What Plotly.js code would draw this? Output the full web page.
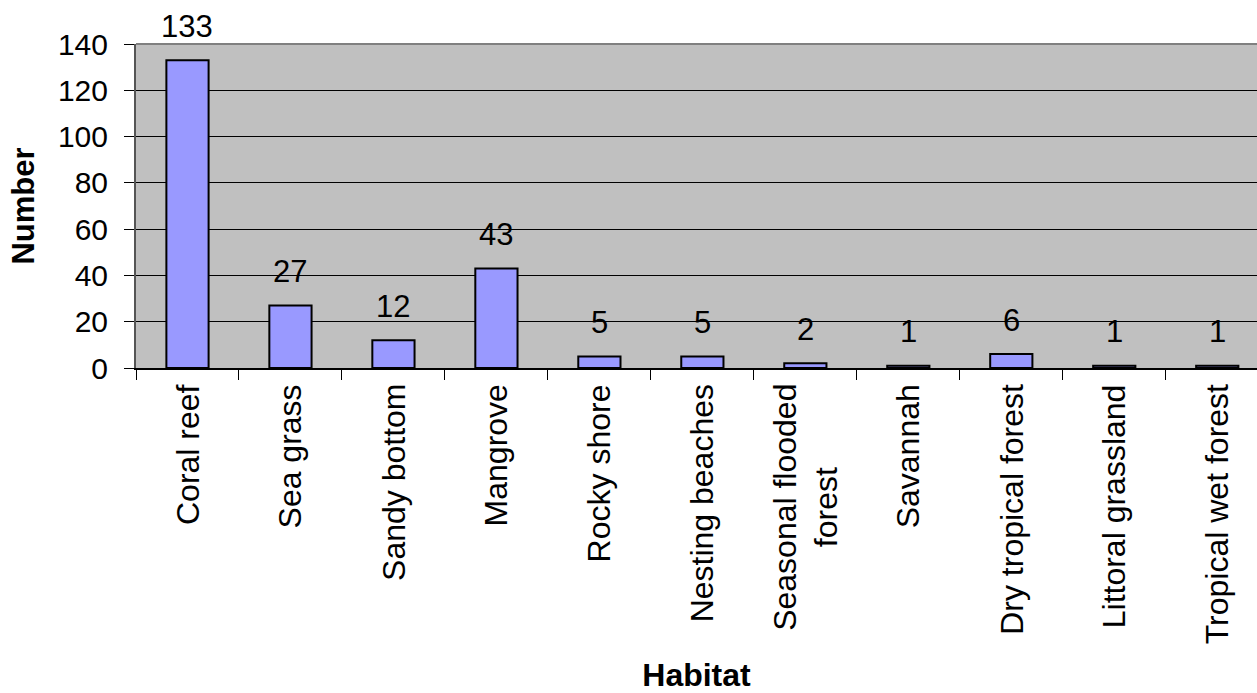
<!DOCTYPE html>
<html>
<head>
<meta charset="utf-8">
<script src="https://cdn.plot.ly/plotly-3.0.1.min.js"></script>
<style>html,body{margin:0;padding:0;background:#fff;}#chart{width:1257px;height:693px;}</style>
</head>
<body>
<div id="chart"></div>
<script>
const categories = ["Coral reef", "Sea grass", "Sandy bottom", "Mangrove", "Rocky shore", "Nesting beaches", "Seasonal flooded<br>forest", "Savannah", "Dry tropical forest", "Littoral grassland", "Tropical wet forest"];
const values = [133, 27, 12, 43, 5, 5, 2, 1, 6, 1, 1];
const yTickValues = [0, 20, 40, 60, 80, 100, 120, 140];

const FONT = "Liberation Sans, Arial, sans-serif";

const trace = {
  type: "bar",
  x: categories,
  y: values,
  width: 0.41,
  marker: { color: "#9999ff", line: { color: "#000000", width: 2 } },
  hoverinfo: "x+y"
};

const valueLabels = categories.map((c, i) => ({
  x: c, y: values[i], xref: "x", yref: "y",
  text: String(values[i]), showarrow: false,
  yanchor: "middle", yshift: 34,
  font: { family: FONT, size: 31, color: "#000" }
}));

const categoryLabels = categories.map((c) => ({
  x: c, y: 0, xref: "x", yref: "y",
  text: c, showarrow: false,
  textangle: -90, align: "center",
  xanchor: "center", yanchor: "top", yshift: -14,
  font: { family: FONT, size: 32, color: "#000" }
}));

const layout = {
  width: 1257, height: 693,
  margin: { l: 136, r: 0, t: 44, b: 325 },
  paper_bgcolor: "#ffffff",
  plot_bgcolor: "#c0c0c0",
  showlegend: false,
  bargap: 0.59,
  font: { family: FONT, size: 30, color: "#000" },
  xaxis: {
    type: "category",
    range: [-0.5, 10.386],
    ticks: "outside", ticklen: 10, tickwidth: 1, tickcolor: "#000",
    tickson: "boundaries",
    showticklabels: false,
    showgrid: false,
    showline: true, linecolor: "#000", linewidth: 2,
    title: { text: "<b>Habitat</b>", font: { family: FONT, size: 32, color: "#000" }, standoff: 306 },
    automargin: false
  },
  yaxis: {
    range: [0, 140],
    tickvals: yTickValues,
    ticktext: yTickValues.map(String),
    ticks: "outside", ticklen: 10, tickwidth: 1, tickcolor: "#000",
    ticklabelstandoff: 10,
    showgrid: true, gridcolor: "#000", gridwidth: 1,
    zeroline: false,
    showline: true, linecolor: "#555", linewidth: 2,
    tickfont: { family: FONT, size: 30, color: "#000" },
    title: { text: "<b>Number</b>", font: { family: FONT, size: 31, color: "#000" }, standoff: 14 },
    automargin: false
  },
  shapes: [{
    type: "line", xref: "x domain", yref: "y domain",
    x0: 0, x1: 1, y0: 1, y1: 1,
    line: { color: "#808080", width: 2 }
  }],
  annotations: valueLabels.concat(categoryLabels)
};

Plotly.newPlot("chart", [trace], layout, { displayModeBar: false, staticPlot: true });
</script>
</body>
</html>
